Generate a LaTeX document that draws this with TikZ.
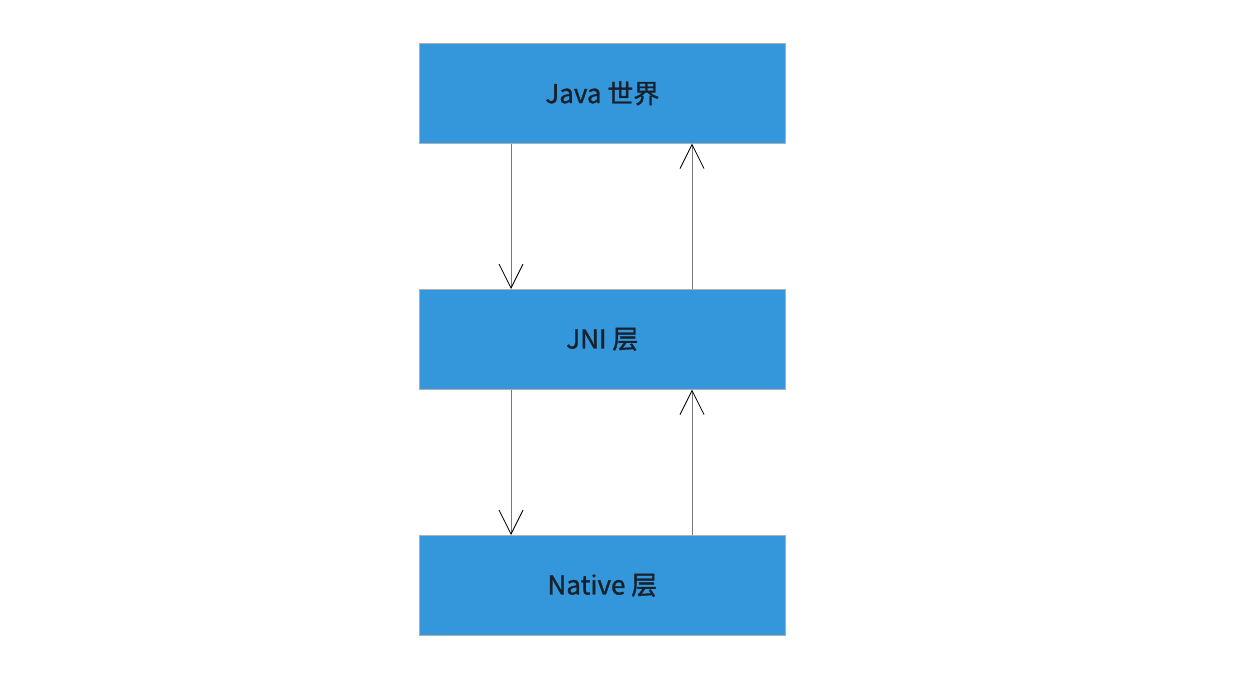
\documentclass[tikz,border=0pt]{standalone}
\usepackage{fontspec}
\setmainfont{Noto Sans CJK SC}
\newfontfamily\lblfont[FakeBold=1.2]{Noto Sans CJK SC}
\usetikzlibrary{arrows.meta}
\definecolor{boxblue}{HTML}{3597DB}
\definecolor{boxedge}{HTML}{B0B0B0}
\definecolor{txt}{HTML}{17212B}
\definecolor{linegray}{HTML}{777777}
\tikzset{
  layer/.style={draw=boxedge, line width=1.2pt, fill=boxblue, minimum width=366.5pt, minimum height=99.5pt, inner sep=0pt, text=txt, font=\lblfont\fontsize{26}{30}\selectfont, anchor=north west},
  conn/.style={draw=linegray, line width=1pt, -{Straight Barb[length=24pt,width=24pt,color=black,line width=0.8pt]}}
}
\begin{document}
\begin{tikzpicture}[x=1pt,y=-1pt]
\useasboundingbox (0,0) rectangle (1236,674);
\fill[white] (0,0) rectangle (1236,674);
\node[layer] (java) at (418.5,43) {Java 世界};
\node[layer] (jni) at (418.5,289) {JNI 层};
\node[layer] (native) at (418.5,535) {Native 层};
\coordinate (L) at (511,0);
\coordinate (R) at (692,0);
\draw[conn] (java.south -| L) -- (jni.north -| L);
\draw[conn] (jni.north -| R) -- (java.south -| R);
\draw[conn] (jni.south -| L) -- (native.north -| L);
\draw[conn] (native.north -| R) -- (jni.south -| R);
\end{tikzpicture}
\end{document}
